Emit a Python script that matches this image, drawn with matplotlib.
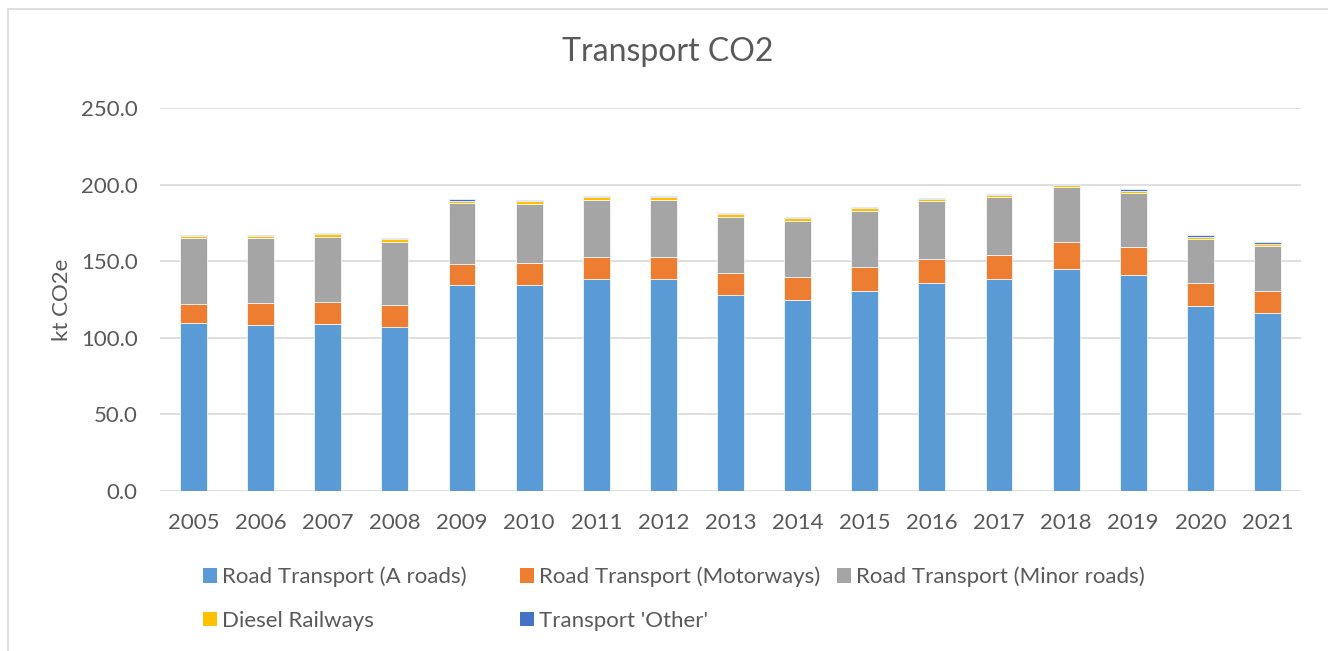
import numpy as np
import matplotlib.pyplot as plt
import matplotlib.patches as mpatches
from matplotlib.lines import Line2D

plt.rcParams['font.family'] = ['Lato', 'DejaVu Sans']

years = ['2005', '2006', '2007', '2008', '2009', '2010', '2011', '2012', '2013',
         '2014', '2015', '2016', '2017', '2018', '2019', '2020', '2021']

a_roads = [109.7, 108.5, 109.0, 107.0, 134.3, 134.7, 138.4, 138.6, 127.7,
           124.5, 130.5, 136.0, 138.6, 144.9, 141.2, 121.0, 116.0]
motorways = [12.3, 14.0, 14.4, 14.2, 14.1, 13.9, 14.1, 14.3, 14.8,
             14.9, 15.5, 15.4, 15.6, 17.4, 18.3, 14.6, 14.4]
minor_roads = [43.0, 42.8, 42.6, 41.5, 39.4, 38.5, 37.7, 37.3, 36.4,
               37.0, 37.0, 38.1, 37.9, 35.9, 35.2, 29.1, 29.7]
diesel_rail = [1.5, 1.3, 1.6, 1.6, 1.8, 1.9, 1.4, 1.4, 1.6,
               1.5, 1.4, 1.0, 1.0, 1.4, 1.4, 1.4, 1.4]
transport_other = [0.5, 0.6, 0.8, 0.8, 1.0, 1.0, 1.0, 1.0, 1.0,
                   1.0, 1.0, 0.8, 0.8, 0.8, 0.8, 0.8, 0.8]

series_names = ['Road Transport (A roads)', 'Road Transport (Motorways)',
                'Road Transport (Minor roads)', 'Diesel Railways', "Transport 'Other'"]
series_values = [a_roads, motorways, minor_roads, diesel_rail, transport_other]
colours = ['#5B9BD5', '#ED7D31', '#A5A5A5', '#FFC000', '#4472C4']

teks = '#595959'
grid = '#D9D9D9'
fs = 16

fig = plt.figure(figsize=(13.28, 6.51), dpi=100)
ax = fig.add_axes([160 / 1328, 1 - 491 / 651, 1141 / 1328, 383 / 651])

x = np.arange(len(years))
bawah = np.zeros(len(years))
for nama, nilai, warna in zip(series_names, series_values, colours):
    nilai = np.array(nilai)
    ax.bar(x, nilai, 0.4, bottom=bawah, color=warna, edgecolor='white',
           linewidth=0.5, label=nama, zorder=3)
    bawah += nilai

ax.set_xlim(-0.5, len(years) - 0.5)
ax.set_ylim(0, 250)
ax.set_yticks(np.arange(0, 251, 50))
ax.set_yticklabels([f'{v:.1f}' for v in np.arange(0, 251, 50)])
ax.set_xticks(x)
ax.set_xticklabels(years)
ax.tick_params(axis='both', length=0, labelsize=fs, colors=teks)
ax.tick_params(axis='y', pad=16)
ax.tick_params(axis='x', pad=16)
ax.grid(axis='y', color=grid, linewidth=1.2, zorder=0)
for s in ax.spines.values():
    s.set_visible(False)

ax.set_ylabel('kt CO2e', fontsize=fs, color=teks)
ax.yaxis.set_label_coords(-0.077, 0.5)

fig.text(668 / 1328, 1 - 52 / 651, 'Transport CO2', fontsize=23, color=teks,
         ha='center', va='center')

# legenda: posisi kolom seperti Excel (lebar kolom seragam)
posisi_legenda = [(203, 577), (520, 577), (837, 577), (203, 621), (520, 621)]
for nama, warna, (px, py) in zip(series_names, colours, posisi_legenda):
    h = mpatches.Patch(facecolor=warna, edgecolor='none')
    leg = fig.legend([h], [nama], loc='center left',
                     bbox_to_anchor=(px / 1328, 1 - py / 651),
                     frameon=False, fontsize=fs, handlelength=0.62,
                     handleheight=0.62, handletextpad=0.25, borderpad=0,
                     borderaxespad=0)
    for t in leg.get_texts():
        t.set_color(teks)

# bingkai chart area
fig.add_artist(Line2D([8 / 1328, 8 / 1328], [0, 1 - 9 / 651], transform=fig.transFigure,
                      color=grid, linewidth=1.2))
fig.add_artist(Line2D([8 / 1328, 1], [1 - 9 / 651, 1 - 9 / 651], transform=fig.transFigure,
                      color=grid, linewidth=1.2))

fig.savefig('out.png', dpi=100)
